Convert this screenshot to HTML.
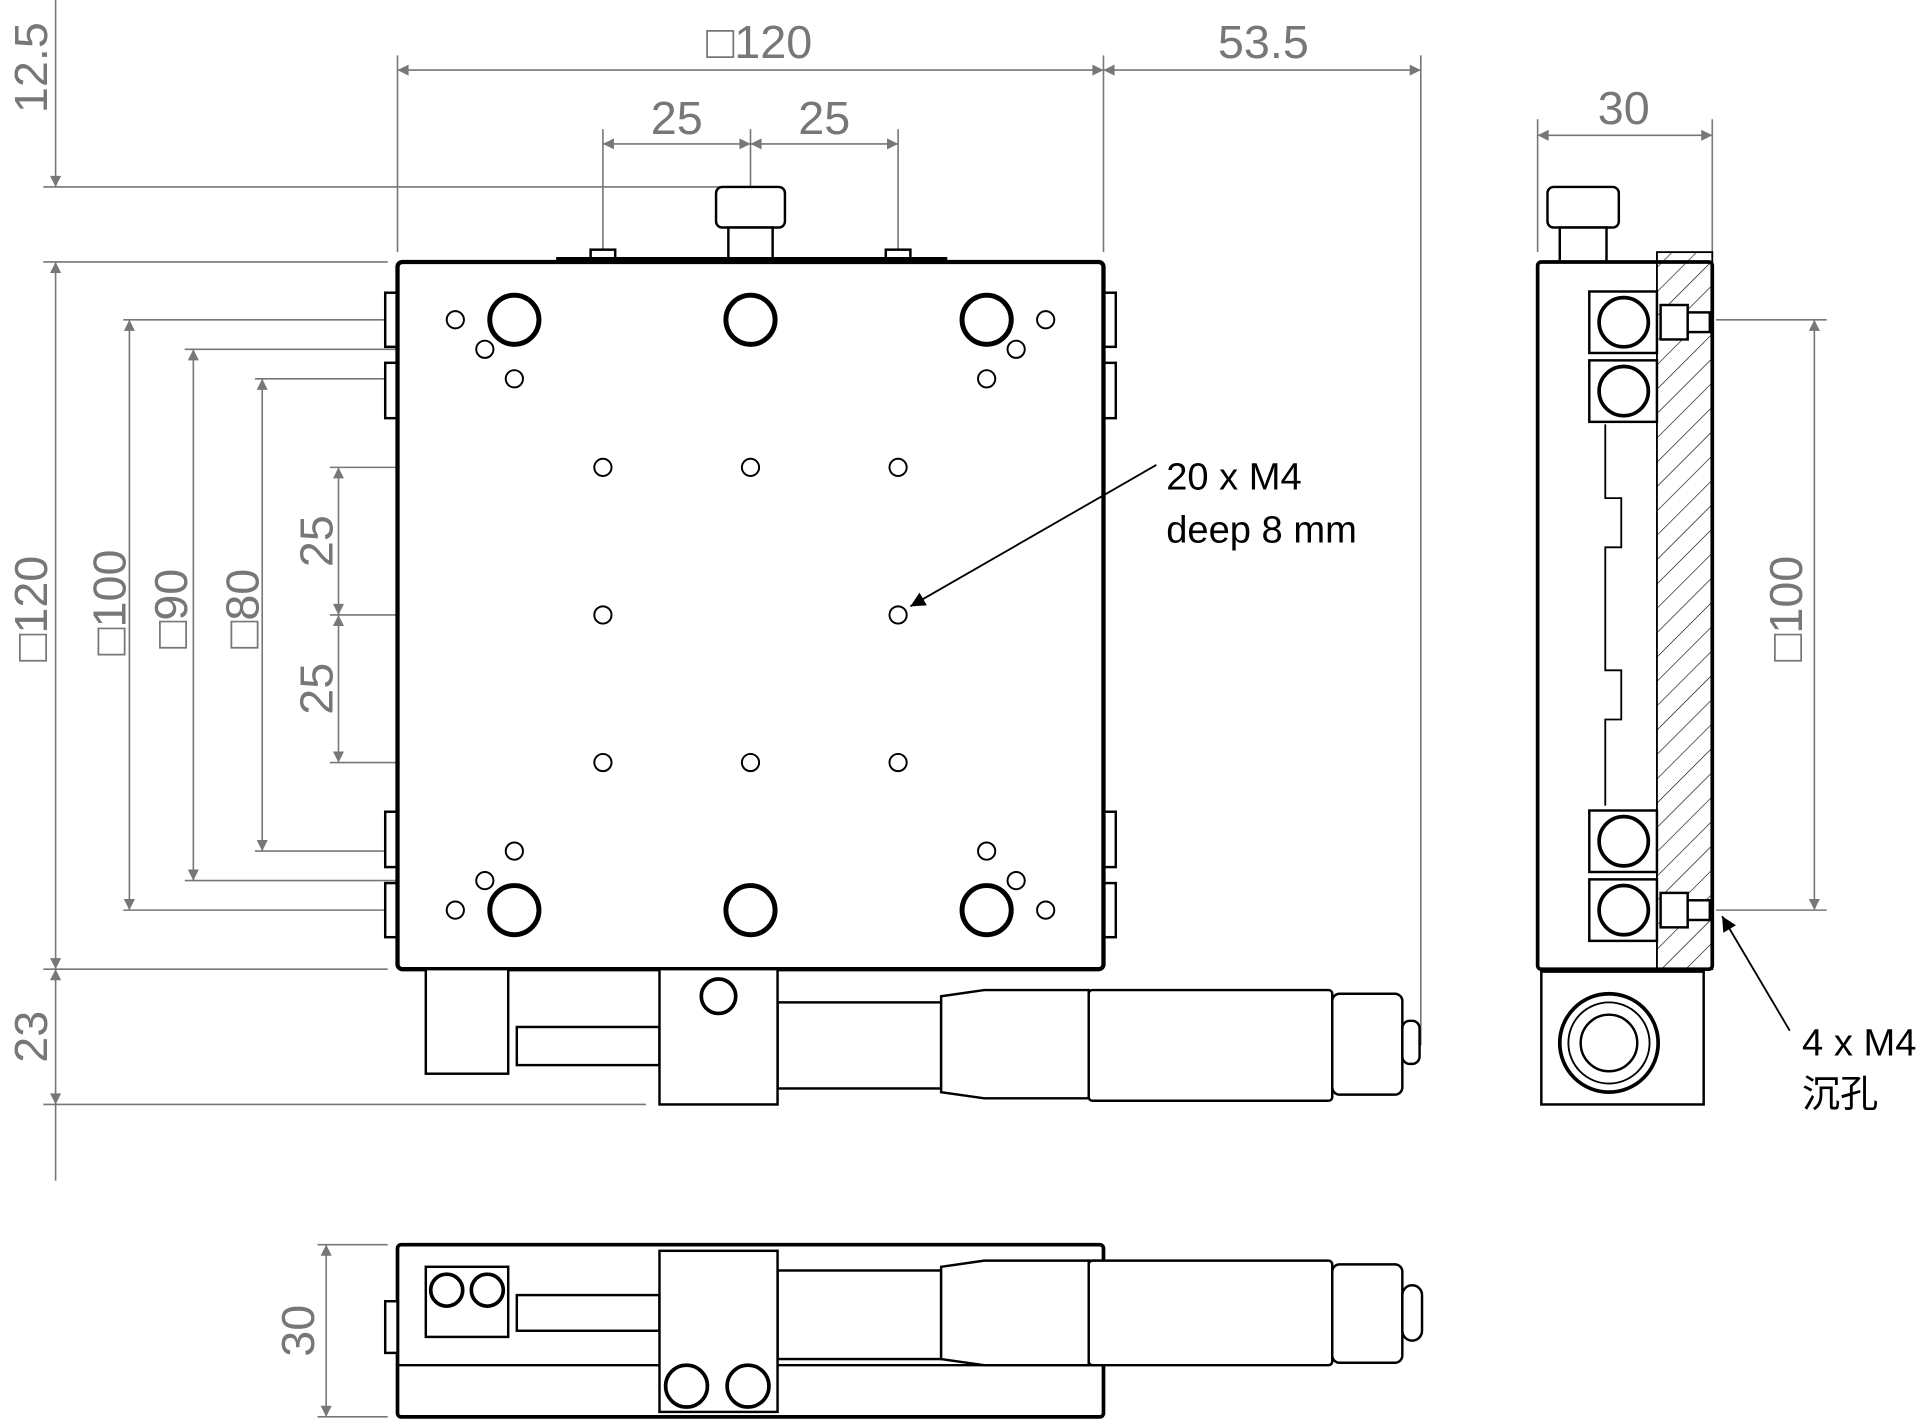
<!DOCTYPE html>
<html><head><meta charset="utf-8"><style>
html,body{margin:0;padding:0;background:#fff;}
svg{display:block;}
text{font-family:"Liberation Sans","DejaVu Sans","Noto Sans CJK SC",sans-serif;}
</style></head><body>
<svg width="1929" height="1423" viewBox="0 0 1568 1157" xmlns="http://www.w3.org/2000/svg">
<defs>
<marker id="a" viewBox="0 0 10 10" refX="10" refY="5" markerWidth="30" markerHeight="9" markerUnits="userSpaceOnUse" orient="auto-start-reverse"><path d="M0,0L10,5L0,10z" fill="#777"/></marker>
<marker id="b" viewBox="0 0 10 10" refX="10" refY="5" markerWidth="30" markerHeight="12" markerUnits="userSpaceOnUse" orient="auto"><path d="M0,0L10,5L0,10z" fill="#000"/></marker>
<pattern id="h" width="14" height="14" patternUnits="userSpaceOnUse" patternTransform="rotate(45)"><line x1="0" y1="0" x2="0" y2="14" stroke="#000" stroke-width="1"/></pattern>
</defs>
<g stroke="#777" stroke-width="1.3" fill="none">
<line x1="323" y1="45" x2="323" y2="205"/><line x1="897" y1="45" x2="897" y2="205"/><line x1="1155" y1="45" x2="1155" y2="850"/>
<line x1="323" y1="57" x2="897" y2="57" marker-start="url(#a)" marker-end="url(#a)"/>
<line x1="897" y1="57" x2="1155" y2="57" marker-start="url(#a)" marker-end="url(#a)"/>
<line x1="490" y1="105" x2="490" y2="373"/><line x1="610" y1="105" x2="610" y2="373"/><line x1="730" y1="105" x2="730" y2="373"/>
<line x1="490" y1="117" x2="610" y2="117" marker-start="url(#a)" marker-end="url(#a)"/>
<line x1="610" y1="117" x2="730" y2="117" marker-start="url(#a)" marker-end="url(#a)"/>
<line x1="45" y1="0" x2="45" y2="152" marker-end="url(#a)"/>
<line x1="35" y1="152" x2="592" y2="152"/><line x1="35" y1="213" x2="315" y2="213"/>
<line x1="45" y1="213" x2="45" y2="788" marker-start="url(#a)" marker-end="url(#a)"/>
<line x1="35" y1="788" x2="315" y2="788"/><line x1="35" y1="898" x2="525" y2="898"/>
<line x1="45" y1="788" x2="45" y2="898" marker-start="url(#a)" marker-end="url(#a)"/>
<line x1="45" y1="898" x2="45" y2="960"/>
<line x1="100" y1="260" x2="362" y2="260"/><line x1="100" y1="740" x2="362" y2="740"/>
<line x1="105" y1="260" x2="105" y2="740" marker-start="url(#a)" marker-end="url(#a)"/>
<line x1="150" y1="284" x2="386" y2="284"/><line x1="150" y1="716" x2="386" y2="716"/>
<line x1="157" y1="284" x2="157" y2="716" marker-start="url(#a)" marker-end="url(#a)"/>
<line x1="207" y1="308" x2="410" y2="308"/><line x1="207" y1="692" x2="410" y2="692"/>
<line x1="213" y1="308" x2="213" y2="692" marker-start="url(#a)" marker-end="url(#a)"/>
<line x1="268" y1="380" x2="483" y2="380"/><line x1="268" y1="500" x2="483" y2="500"/><line x1="268" y1="620" x2="483" y2="620"/>
<line x1="275" y1="380" x2="275" y2="500" marker-start="url(#a)" marker-end="url(#a)"/>
<line x1="275" y1="500" x2="275" y2="620" marker-start="url(#a)" marker-end="url(#a)"/>
<line x1="1250" y1="97" x2="1250" y2="205"/><line x1="1392" y1="97" x2="1392" y2="205"/>
<line x1="1250" y1="110" x2="1392" y2="110" marker-start="url(#a)" marker-end="url(#a)"/>
<line x1="1395" y1="260" x2="1485" y2="260"/><line x1="1395" y1="740" x2="1485" y2="740"/>
<line x1="1475" y1="260" x2="1475" y2="740" marker-start="url(#a)" marker-end="url(#a)"/>
<line x1="258" y1="1012" x2="315" y2="1012"/><line x1="258" y1="1152" x2="315" y2="1152"/>
<line x1="265" y1="1012" x2="265" y2="1152" marker-start="url(#a)" marker-end="url(#a)"/>
</g>
<g fill="#777" font-size="38" text-anchor="middle">
<text x="617" y="47">□120</text><text x="1027" y="47">53.5</text>
<text x="550" y="109">25</text><text x="670" y="109">25</text>
<text x="1320" y="101">30</text>
<text transform="translate(38,55) rotate(-90)">12.5</text>
<text transform="translate(38,495) rotate(-90)">□120</text>
<text transform="translate(38,843) rotate(-90)">23</text>
<text transform="translate(102,490) rotate(-90)">□100</text>
<text transform="translate(152,495) rotate(-90)">□90</text>
<text transform="translate(210,495) rotate(-90)">□80</text>
<text transform="translate(270,440) rotate(-90)">25</text>
<text transform="translate(270,560) rotate(-90)">25</text>
<text transform="translate(1465,495) rotate(-90)">□100</text>
<text transform="translate(255,1082) rotate(-90)">30</text>
</g>
<g stroke="#000" stroke-width="2" fill="#fff">
<rect x="582" y="152" width="56" height="33" rx="5"/><rect x="592" y="185" width="36" height="28"/>
<rect x="480" y="203" width="20" height="10"/><rect x="720" y="203" width="20" height="10"/>
<line x1="452" y1="211" x2="770" y2="211" stroke-width="4"/>
<rect x="313" y="238" width="10" height="44"/><rect x="313" y="295" width="10" height="45"/><rect x="313" y="660" width="10" height="45"/><rect x="313" y="718" width="10" height="44"/>
<rect x="897" y="238" width="10" height="44"/><rect x="897" y="295" width="10" height="45"/><rect x="897" y="660" width="10" height="45"/><rect x="897" y="718" width="10" height="44"/>
<rect x="323" y="213" width="574" height="575" rx="4" stroke-width="3.5"/>
<g stroke-width="4"><circle cx="418" cy="260" r="20"/><circle cx="610" cy="260" r="20"/><circle cx="802" cy="260" r="20"/><circle cx="418" cy="740" r="20"/><circle cx="610" cy="740" r="20"/><circle cx="802" cy="740" r="20"/></g>
<g stroke-width="1.6">
<circle cx="490" cy="380" r="7"/><circle cx="610" cy="380" r="7"/><circle cx="730" cy="380" r="7"/><circle cx="490" cy="500" r="7"/><circle cx="730" cy="500" r="7"/><circle cx="490" cy="620" r="7"/><circle cx="610" cy="620" r="7"/><circle cx="730" cy="620" r="7"/>
<circle cx="370" cy="260" r="7"/><circle cx="394" cy="284" r="7"/><circle cx="418" cy="308" r="7"/><circle cx="850" cy="260" r="7"/><circle cx="826" cy="284" r="7"/><circle cx="802" cy="308" r="7"/>
<circle cx="418" cy="692" r="7"/><circle cx="394" cy="716" r="7"/><circle cx="370" cy="740" r="7"/><circle cx="802" cy="692" r="7"/><circle cx="826" cy="716" r="7"/><circle cx="850" cy="740" r="7"/>
</g>
<rect x="346" y="788" width="67" height="85"/><rect x="420" y="835" width="116" height="31"/>
<rect x="632" y="815" width="133" height="70"/><path d="M765,810 L800,805 L885,805 L885,893 L800,893 L765,888Z"/>
<rect x="885" y="805" width="198" height="90" rx="3"/><rect x="1083" y="808" width="57" height="82" rx="6"/><rect x="1140" y="830" width="14" height="35" rx="6"/>
<rect x="536" y="788" width="96" height="110"/><circle cx="584" cy="810" r="14" stroke-width="3"/>
<rect x="1258" y="152" width="58" height="33" rx="5"/><rect x="1268" y="185" width="38" height="28"/>
<rect x="1250" y="213" width="142" height="575" rx="3" stroke-width="3"/>
<rect x="1347" y="205" width="45" height="583" fill="url(#h)" stroke-width="1.5"/>
<path d="M1305,345 L1305,405 L1318,405 L1318,445 L1305,445 L1305,545 L1318,545 L1318,585 L1305,585 L1305,655" fill="none" stroke-width="1.5"/>
<rect x="1292" y="237" width="55" height="50"/><rect x="1292" y="293" width="55" height="50"/><rect x="1292" y="659" width="55" height="50"/><rect x="1292" y="715" width="55" height="50"/>
<g stroke-width="3"><circle cx="1320" cy="262" r="20"/><circle cx="1320" cy="318" r="20"/><circle cx="1320" cy="684" r="20"/><circle cx="1320" cy="740" r="20"/></g>
<rect x="1350" y="248" width="22" height="28"/><rect x="1372" y="254" width="18" height="16"/>
<rect x="1350" y="726" width="22" height="28"/><rect x="1372" y="732" width="18" height="16"/>
<rect x="1253" y="790" width="132" height="108"/>
<circle cx="1308" cy="848" r="40" stroke-width="3"/><circle cx="1308" cy="848" r="33" stroke-width="1.5"/><circle cx="1308" cy="848" r="23"/>
<rect x="323" y="1012" width="574" height="140" rx="3" stroke-width="3"/>
<line x1="323" y1="1110" x2="897" y2="1110"/>
<rect x="313" y="1058" width="10" height="42"/><rect x="885" y="1025" width="12" height="10"/>
<rect x="346" y="1030" width="67" height="57"/><circle cx="363" cy="1049" r="13" stroke-width="3"/><circle cx="396" cy="1049" r="13" stroke-width="3"/>
<rect x="420" y="1053" width="116" height="29"/>
<rect x="632" y="1033" width="133" height="72"/><path d="M765,1030 L800,1025 L885,1025 L885,1110 L800,1110 L765,1105Z"/>
<rect x="885" y="1025" width="198" height="85" rx="3"/><rect x="1083" y="1028" width="57" height="80" rx="6"/><rect x="1140" y="1045" width="16" height="45" rx="8"/>
<rect x="536" y="1017" width="96" height="131"/><circle cx="558" cy="1127" r="17" stroke-width="3"/><circle cx="608" cy="1127" r="17" stroke-width="3"/>
</g>
<g stroke="#000" stroke-width="1.5">
<line x1="940" y1="378" x2="740" y2="493" marker-end="url(#b)"/>
<line x1="1455" y1="838" x2="1400" y2="745" marker-end="url(#b)"/>
</g>
<g fill="#000" font-size="31">
<text x="948" y="398">20 x M4</text><text x="948" y="441">deep 8 mm</text>
<text x="1465" y="858">4 x M4</text><text x="1465" y="900" font-family="'Noto Sans CJK SC',sans-serif">沉孔</text>
</g>
</svg>
</body></html>
